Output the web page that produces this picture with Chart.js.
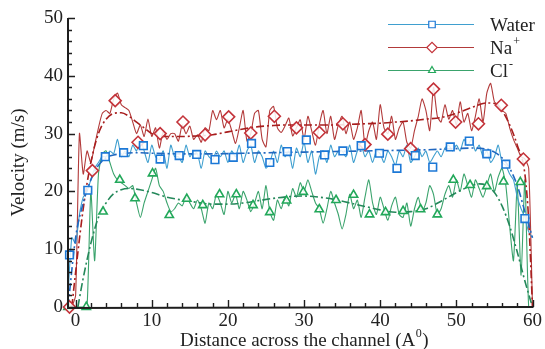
<!DOCTYPE html>
<html>
<head>
<meta charset="utf-8">
<script src="https://cdn.jsdelivr.net/npm/chart.js@4.4.1/dist/chart.umd.min.js"></script>
<style>
  html, body { margin: 0; padding: 0; background: #ffffff; }
  #c { display: block; }
</style>
</head>
<body>
<canvas id="c" width="545" height="349" style="width:545px;height:349px"></canvas>
<script>
// ---------- DATA ----------
const distance = [
  -1,-0.5,0,0.5,1,1.5,2,2.5,3,3.5,
  4,4.5,5,5.5,6,6.5,7,7.5,8,8.5,
  9,9.5,10,10.5,11,11.5,12,12.5,13,13.5,
  14,14.5,15,15.5,16,16.5,17,17.5,18,18.5,
  19,19.5,20,20.5,21,21.5,22,22.5,23,23.5,
  24,24.5,25,25.5,26,26.5,27,27.5,28,28.5,
  29,29.5,30,30.5,31,31.5,32,32.5,33,33.5,
  34,34.5,35,35.5,36,36.5,37,37.5,38,38.5,
  39,39.5,40,40.5,41,41.5,42,42.5,43,43.5,
  44,44.5,45,45.5,46,46.5,47,47.5,48,48.5,
  49,49.5,50,50.5,51,51.5,52,52.5,53,53.5,
  54,54.5,55,55.5,56,56.5,57,57.5,58,58.5,
  59,59.5,60
];
const waterVelocity = [
  2,12,11,16,19,20,22,24,25,26,
  26,27,26.5,29,26,27,26,28,27,29,
  27,25,28,26,25.5,27,24,28,26,26,
  25,28,26,27,26.5,24,27,26,25.5,27,
  26,27,25,27,26,28,25,27,28,25,
  27,26,24,25,27,25,28,26,27,24,
  27.5,26,28.5,25,27,23,26,27,25,28,
  26,27,27,26,28,25,27,28,26,27,
  25,27,26.5,25,27,26,24.5,27,26,28,
  25,26,27.5,26,27,25,26,27,26,27.5,
  28,27,28,27,29,28,29,27,28,26,
  27,25,26,28,25,24.5,23,22,19,17,
  15.5,13,12
];
const naVelocity = [
  null,0,2,30,23,27,25,28,31,33.5,
  34,33.5,36,37,35,34.5,34,32,30,31.5,
  29.5,32.5,29.5,31,27.5,30.3,29,30,30,28.7,
  31.5,30,31.3,29,29.8,28.5,31,30.5,34,32.4,
  34,31,32.5,30.5,28.3,31,34,28.7,30,33.5,
  34,29,27.7,34,34.7,31,30.2,31.3,32.7,29.6,
  31,32.4,29,33,30.5,28,31.5,34,30,33,
  29,31.5,33,30,32,29,31,34,28,30.5,
  32,29,35,31,30,33,29,31,32,28.5,
  27.5,30.5,33,36,34,30.5,38,33,32,35,
  32.5,34,31.5,35.5,32,33.5,30.5,33,36,32,
  37,38.7,35.5,35,34,33.5,31,29,27.5,26,
  25.6,24,0
];
const clVelocity = [
  0,0,0,0,0,0,20,8,23,26.5,
  27,25,23,22,21.5,21,20.5,21,18,15.5,
  18,20,22,24,21,20,18,16.5,17,18,
  17.5,19,18,17,18.5,17,14.5,18,17,19.5,
  18,16,20,18,19.5,17,20,18.5,16.5,18,
  20,17,21,16.5,15,18.5,17,19,17.5,20.5,
  19,21.5,20,22,20,18,17,14.5,17,20,
  18,16,13.5,16,19.5,17,18.5,15.5,19,22,
  18,16,19,17,15,17.5,19,16,15.5,18,
  14,17,19,16.5,18,21,19.5,16,17,19.5,
  21,19,22,20,23,21,19,22,20.5,19,
  21,23,20,22.5,24,21,14,8,21,5.5,
  22,0,0
];

// symbols (markers)
const waterMarkX = [-0.8,1.6,3.9,6.3,8.9,11.1,13.6,15.9,18.3,20.7,23.1,25.5,27.8,30.3,32.7,35.1,37.5,39.9,42.2,44.6,46.9,49.2,51.7,54.0,56.5,59.0];
const waterMarkY = [9,20.2,26.0,26.7,27.9,25.6,26.2,26.4,25.5,25.9,28.3,25.0,26.9,28.9,26.3,27.0,27.9,26.6,24.0,26.2,24.2,27.7,28.7,26.5,24.7,15.3];
const naMarkX = [-0.8,2.2,5.2,8.2,11.1,14.1,17.0,20.1,23.0,26.1,29.0,32.0,35.1,38.0,41.0,44.0,47.0,49.9,52.9,55.9,58.8];
const naMarkY = [0,23.6,35.7,28.5,30.0,32.0,29.8,32.9,30.1,33.0,31.0,30.2,31.7,28.1,29.9,27.4,37.7,32.0,31.7,34.9,25.6];
const clMarkX = [-1.0,1.4,3.6,5.8,7.8,10.1,12.3,14.6,16.7,18.9,21.1,23.3,25.5,27.7,29.9,32.0,34.2,36.5,38.6,40.7,43.0,45.3,47.5,49.6,51.8,54.0,56.2,58.4];
const clMarkY = [0,0,16.5,22.0,18.8,23.1,15.9,18.7,17.6,19.5,19.5,17.6,16.4,18.4,19.9,16.9,18.5,19.4,16.0,16.4,16.6,16.9,16.0,22.0,21.1,20.9,21.7,21.6];

// fitted (dash-dot) curves
const waterFitX = [-1,0,1,2,3,4,5,6,8,10,14,18,22,26,30,34,38,42,46,50,52,54,55,56,57,58,59,60];
const waterFitY = [0,12,18,22,24.5,25.8,26.3,26.5,26.7,26.6,26.5,26.5,26.6,26.7,26.8,26.9,27.0,27.1,27.2,27.4,27.5,27.3,26.8,25.8,24.0,21.0,16.5,12.0];
const naFitX = [-0.5,0,1,2,3,4,5,6,7,8,9,10,11,12,14,16,18,20,22,24,26,28,30,32,34,36,38,40,42,44,46,48,50,52,54,55,56,57,58,59,59.5,60];
const naFitY = [0,6,17,25,30,32.5,33.5,33.6,33,32,31,30,29.6,29.5,29.5,29.6,29.8,30.3,30.8,31.2,31.4,31.5,31.5,31.5,31.5,31.6,31.7,31.8,32.0,32.2,32.5,32.8,33.5,34.5,35.3,35.2,34.0,31.5,28.0,23.0,15.0,0];
const clFitX = [0.3,1,2,3,4,5,6,7,8,10,12,14,16,18,20,22,24,26,28,30,32,34,36,38,40,42,44,46,48,50,52,53,54,55,56,57,58,59,60];
const clFitY = [0,5,11,15.5,18,19.6,20.3,20.5,20.4,19.8,19.0,18.5,18.1,17.8,17.8,18.0,18.4,18.8,19.1,19.2,19.0,18.6,18.0,17.4,16.8,16.4,16.5,17.0,18.3,19.8,21.0,21.3,21.0,19.8,17.5,14.0,9.5,4.5,0];

const xTicks = [0,10,20,30,40,50,60];
const yTicks = [0,10,20,30,40,50];
const seriesNames = ['Water','Na','Cl'];
const seriesSup = ['','+','-'];
const xTitle = 'Distance across the channel (A';
const xTitleSup = '0';
const yTitle = 'Velocity (m/s)';

// ---------- STYLE ----------
const FONT = '"Liberation Serif", "Times New Roman", serif';
const TXT = '#222222';
const lineCol = ['#3f9fcf','#b23a3a','#3aa36c'];
const markCol = ['#1c78d6','#c4333a','#22a85a'];
const fitCol  = ['#2168c0','#a81e1e','#24885a'];
const markStyle = ['rect','rectRot','triangle'];
const markRad = [5.4,6,4.8];

function pts(xs, ys) { return xs.map((x, i) => ({ x: x, y: ys[i] })); }

const noisy = [waterVelocity, naVelocity, clVelocity];
const marks = [[waterMarkX, waterMarkY],[naMarkX, naMarkY],[clMarkX, clMarkY]];
const fits = [[waterFitX, waterFitY],[naFitX, naFitY],[clFitX, clFitY]];

const datasets = [];
for (let i = 0; i < 3; i++) {
  datasets.push({
    label: seriesNames[i] + ' symbols',
    data: pts(marks[i][0], marks[i][1]),
    showLine: false,
    pointStyle: markStyle[i],
    pointRadius: markRad[i],
    pointBorderWidth: 1.6,
    pointBorderColor: markCol[i],
    pointBackgroundColor: 'rgba(255,255,255,0.85)',
    clip: false
  });
}
for (let i = 0; i < 3; i++) {
  datasets.push({
    label: seriesNames[i] + ' fit',
    data: pts(fits[i][0], fits[i][1]),
    showLine: true,
    borderColor: fitCol[i],
    borderWidth: 1.6,
    borderDash: [8,3,2,3],
    pointRadius: 0,
    tension: 0.4,
    cubicInterpolationMode: 'monotone',
    fill: false,
    clip: false
  });
}
for (let i = 0; i < 3; i++) {
  datasets.push({
    label: seriesNames[i],
    data: pts(distance, noisy[i]),
    showLine: true,
    spanGaps: true,
    borderColor: lineCol[i],
    borderWidth: 1.1,
    pointRadius: 0,
    tension: 0.2,
    fill: false,
    clip: false
  });
}

const axesPlugin = {
  id: 'axesPlugin',
  afterDraw(chart) {
    const ctx = chart.ctx;
    const xs = chart.scales.x, ys = chart.scales.y;
    const L = xs.left, R = xs.right, T = ys.top, B = ys.bottom;
    ctx.save();
    ctx.strokeStyle = '#1e1e1e';
    ctx.lineWidth = 2;
    ctx.beginPath();
    ctx.moveTo(L, T); ctx.lineTo(L, B + 1); ctx.lineTo(R + 1, B);
    ctx.stroke();
    ctx.lineWidth = 1.4;
    ctx.beginPath();
    for (let v = 0; v <= 50; v += 2) {
      const py = Math.round(ys.getPixelForValue(v)) + 0.5;
      const len = (v % 10 === 0) ? 7 : 4;
      ctx.moveTo(L, py); ctx.lineTo(L + len, py);
    }
    for (let v = 0; v <= 60; v += 2) {
      const px = Math.round(xs.getPixelForValue(v)) + 0.5;
      const len = (v % 10 === 0) ? 7 : 4;
      ctx.moveTo(px, B); ctx.lineTo(px, B - len);
    }
    ctx.stroke();

    // x axis title with superscript
    ctx.fillStyle = TXT;
    ctx.textBaseline = 'alphabetic';
    ctx.textAlign = 'left';
    const big = '19px ' + FONT, small = '12px ' + FONT;
    ctx.font = big;
    const w1 = ctx.measureText(xTitle).width;
    const w3 = ctx.measureText(')').width;
    ctx.font = small;
    const w2 = ctx.measureText(xTitleSup).width;
    const total = w1 + w2 + w3 + 1;
    let x0 = (L + R) / 2 - total / 2 + 4;
    const by = 346;
    ctx.font = big; ctx.fillText(xTitle, x0, by);
    ctx.font = small; ctx.fillText(xTitleSup, x0 + w1 + 0.5, by - 9);
    ctx.font = big; ctx.fillText(')', x0 + w1 + w2 + 1, by);

    // legend
    const rowsY = [24, 47, 70];
    for (let i = 0; i < 3; i++) {
      const y = rowsY[i];
      ctx.strokeStyle = lineCol[i];
      ctx.lineWidth = 1.2;
      ctx.setLineDash([]);
      ctx.beginPath(); ctx.moveTo(388, y + 0.5); ctx.lineTo(474, y + 0.5); ctx.stroke();
      ctx.strokeStyle = markCol[i];
      ctx.fillStyle = '#ffffff';
      Chart.helpers.drawPoint(ctx, { pointStyle: markStyle[i], radius: markRad[i] - 0.8, borderWidth: 1.6, rotation: 0 }, 432, y + 0.5);
      ctx.fillStyle = TXT;
      ctx.font = big;
      ctx.textBaseline = 'alphabetic';
      ctx.fillText(seriesNames[i], 490, y + 7);
      if (seriesSup[i]) {
        const w = ctx.measureText(seriesNames[i]).width;
        ctx.font = small;
        ctx.fillText(seriesSup[i], 490 + w + 1, y - 2);
      }
    }
    ctx.restore();
  }
};

new Chart(document.getElementById('c'), {
  type: 'scatter',
  data: { datasets: datasets },
  options: {
    responsive: false,
    animation: false,
    events: [],
    layout: { padding: { left: 0, right: 9, top: 18, bottom: 0 } },
    plugins: { legend: { display: false }, tooltip: { enabled: false } },
    scales: {
      x: {
        type: 'linear', min: -1, max: 60,
        afterBuildTicks: (s) => { s.ticks = xTicks.map(v => ({ value: v })); },
        afterFit: (s) => { s.height = 42; },
        grid: { display: false, drawTicks: false },
        border: { display: false },
        ticks: { color: TXT, font: { family: FONT, size: 19 }, padding: 3, maxRotation: 0, autoSkip: false }
      },
      y: {
        type: 'linear', min: 0, max: 50,
        afterBuildTicks: (s) => { s.ticks = yTicks.map(v => ({ value: v })); },
        afterFit: (s) => { s.width = 68; },
        grid: { display: false, drawTicks: false },
        border: { display: false },
        ticks: { color: TXT, font: { family: FONT, size: 19 }, padding: 5, autoSkip: false },
        title: { display: true, text: yTitle, color: TXT, font: { family: FONT, size: 19 }, padding: { top: 8, bottom: 0 } }
      }
    }
  },
  plugins: [axesPlugin]
});
</script>
</body>
</html>
